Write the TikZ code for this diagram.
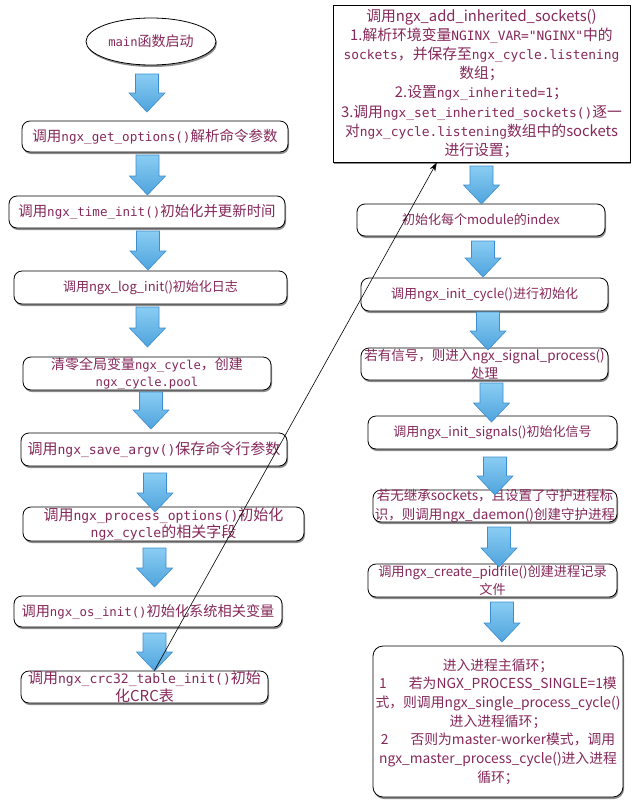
\documentclass[tikz,border=0pt]{standalone}
\usepackage{fontspec}
\setmainfont{Noto Sans CJK SC}
\setmonofont{DejaVu Sans Mono}[Scale=0.87]
\usetikzlibrary{shapes.geometric,shadows,calc,arrows.meta}
\definecolor{txt}{HTML}{86285A}
\definecolor{arrfillA}{HTML}{8ACDF3}
\definecolor{arrfillB}{HTML}{4EA3DD}
\definecolor{arrdraw}{HTML}{3D8ED0}
\newcommand\mon[1]{{\ttfamily #1}}
\newcommand\barrow[3]{%
  \draw[arrdraw, line width=0.6pt, top color=arrfillA, bottom color=arrfillB]
   ({#1-11.5},#2) -- ({#1+11.5},#2) -- ({#1+11.5},{#3-19}) -- ({#1+18},{#3-19})
   -- (#1,#3) -- ({#1-18},{#3-19}) -- ({#1-11.5},{#3-19}) -- cycle;}
\newcommand\rbox[6]{%
  \node[box, minimum width=#3, minimum height=#4] (#1) at (#2) {};
  \node[txtnode, font=#5] (#1t) at (#1.center) {#6};}
\begin{document}
\begin{tikzpicture}[x=1pt,y=-1pt,
  shadowed/.style={drop shadow={shadow xshift=1pt, shadow yshift=-2pt, fill=black, opacity=0.45}},
  box/.style={draw=black, line width=0.8pt, rounded corners=8pt, fill=white, inner sep=0pt, shadowed},
  txtnode/.style={text=txt, align=center, inner sep=0pt},
]
\fill[white] (0,0) rectangle (640,809);
\useasboundingbox (0,0) rectangle (640,809);

% left column
\node[ellipse, draw=black, line width=0.8pt, fill=white, shadowed, minimum width=130pt, minimum height=47pt,
  inner sep=0pt, text=txt, font=\fontsize{14}{17}\selectfont] (start) at (151,41.5) {\mon{main}函数启动};
\rbox{b2}{155,136.5}{266pt}{31pt}{\fontsize{14.5}{17}\selectfont}{调用\mon{ngx\_get\_options()}解析命令参数}
\rbox{b3}{147,212}{276pt}{32pt}{\fontsize{14.4}{17}\selectfont}{调用\mon{ngx\_time\_init()}初始化并更新时间}
\rbox{b4}{150.5,287.5}{273pt}{33pt}{\fontsize{13}{16}\selectfont}{调用ngx\_log\_init()初始化日志}
\rbox{b5}{147,373.5}{248pt}{33pt}{\fontsize{14}{16.5}\selectfont}{清零全局变量\mon{ngx\_cycle}，创建\\\mon{ngx\_cycle.pool}}
\rbox{b6}{154,449.5}{266pt}{33pt}{\fontsize{15}{17}\selectfont}{调用\mon{ngx\_save\_argv()}保存命令行参数}
\rbox{b7}{163.5,524}{281pt}{34pt}{\fontsize{15}{17.5}\selectfont}{调用\mon{ngx\_process\_options()}初始化\\\mon{ngx\_cycle}的相关字段}
\rbox{b8}{148,611.5}{268pt}{31pt}{\fontsize{14.2}{17}\selectfont}{调用\mon{ngx\_os\_init()}初始化系统相关变量}
\rbox{b9}{144.5,687}{247pt}{32pt}{\fontsize{15}{18.5}\selectfont}{调用\mon{ngx\_crc32\_table\_init()}初始\\化CRC表}

% right column
\node[draw=black, line width=0.8pt, fill=white, shadowed, minimum width=297pt, minimum height=157pt, inner sep=0pt] (r1) at (481.5,83.5) {};
\node[txtnode, font=\fontsize{14.8}{19.2}\selectfont] (r1t) at (r1.center) {调用ngx\_add\_inherited\_sockets()\\
1.解析环境变量\mon{NGINX\_VAR="NGINX"}中的\\
\mon{sockets}，并保存至\mon{ngx\_cycle.listening}\\
数组；\\
2.设置\mon{ngx\_inherited=1}；\\
3.调用\mon{ngx\_set\_inherited\_sockets()}逐一\\
对\mon{ngx\_cycle.listening}数组中的sockets\\
进行设置；};
\rbox{r2}{481,220}{248pt}{32pt}{\fontsize{13}{16}\selectfont}{初始化每个module的index}
\rbox{r3}{484.5,294.5}{247pt}{33pt}{\fontsize{13}{16}\selectfont}{调用ngx\_init\_cycle()进行初始化}
\rbox{r4}{484.5,364}{247pt}{32pt}{\fontsize{13.5}{18}\selectfont}{若有信号，则进入ngx\_signal\_process()\\处理}
\rbox{r5}{492.5,432.5}{249pt}{33pt}{\fontsize{13}{16}\selectfont}{调用ngx\_init\_signals()初始化信号}
\rbox{r6}{495,506}{244pt}{32pt}{\fontsize{13.5}{19}\selectfont}{若无继承sockets，且设置了守护进程标\\识，则调用ngx\_daemon()创建守护进程}
\rbox{r7}{492.5,580.5}{249pt}{33pt}{\fontsize{13.2}{18}\selectfont}{调用ngx\_create\_pidfile()创建进程记录\\文件}
\node[box, rounded corners=10pt, minimum width=250pt, minimum height=151pt] (r8) at (498,721.5) {};
\node[txtnode, font=\fontsize{13.8}{18.7}\selectfont] (r8t) at (r8.center) {进入进程主循环；\\
1\hspace{1.6em}若为NGX\_PROCESS\_SINGLE=1模\\
式，则调用ngx\_single\_process\_cycle()\\
进入进程循环；\\
2\hspace{1.6em}否则为master-worker模式，调用\\
ngx\_master\_process\_cycle()进入进程\\
循环；};

% block arrows (left)
\barrow{147}{74}{112}
\barrow{147.5}{155}{195}
\barrow{148}{231}{270}
\barrow{147.5}{307}{347}
\barrow{151}{392}{429}
\barrow{155}{473}{512}
\barrow{154.5}{548}{587}
\barrow{154.5}{633}{671}
% block arrows (right)
\barrow{481.5}{166}{204}
\barrow{483}{241}{277}
\barrow{488}{312}{350}
\barrow{491.5}{383}{422}
\barrow{495}{457}{495}
\barrow{499}{527}{567}
\barrow{502}{602}{642}

% thin connector
\coordinate (src) at ($(b9.north west)!0.54!(b9.north east)$);
\coordinate (dst) at ($(r1.south west)!0.35!(r1.south east)$);
\draw[line width=0.6pt, -{Stealth[length=9pt,width=6pt]}] (src) -- (dst);
\end{tikzpicture}
\end{document}
